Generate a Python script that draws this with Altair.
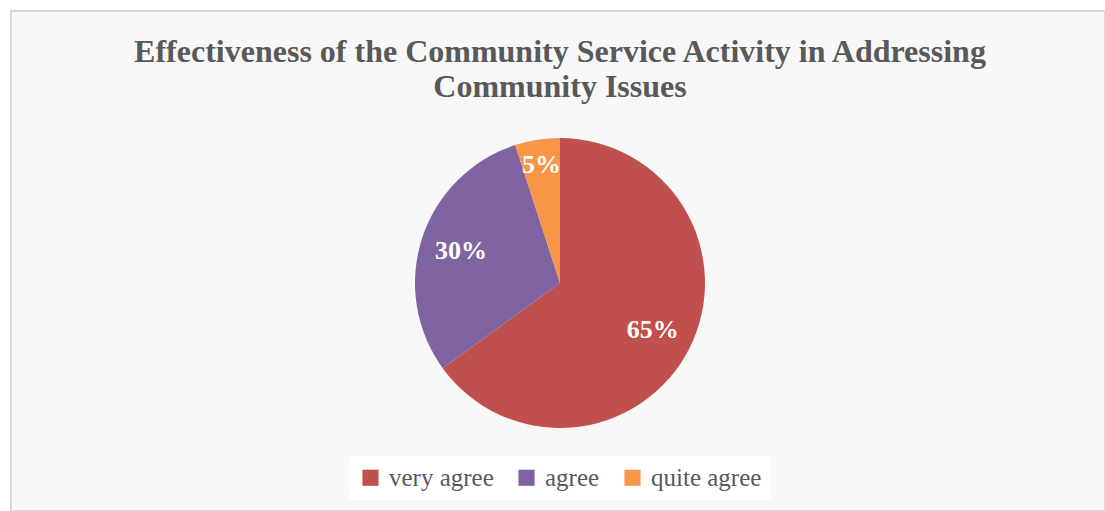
import altair as alt
import pandas as pd

categories = ["very agree", "agree", "quite agree"]
values = [65, 30, 5]
labels = ["65%", "30%", "5%"]
colors = ["#C0504D", "#8064A2", "#F79646"]
title_lines = ["Effectiveness of the Community Service Activity in Addressing", "Community Issues"]

df = pd.DataFrame({"category": categories, "value": values, "label": labels,
                   "order": [0, 1, 2]})

W, H = 1094, 500
CX, CY = 549, 272

base = alt.Chart(df).encode(
    theta=alt.Theta("value:Q", stack=True),
    order=alt.Order("order:Q"),
)

pie = base.mark_arc(outerRadius=145, stroke=None).encode(
    color=alt.Color(
        "category:N",
        scale=alt.Scale(domain=categories, range=colors),
        sort=categories,
        legend=alt.Legend(
            orient="none", legendX=338, legendY=445, direction="horizontal",
            title=None, fillColor="white", padding=9,
            symbolType="square", symbolSize=260, symbolStrokeWidth=0,
            labelFont="Liberation Serif", labelFontSize=25, labelColor="#595959",
            columnPadding=20, labelOffset=6,
        ),
    ),
    x=alt.value(CX), y=alt.value(CY),
)

txt_main = base.transform_filter(alt.datum.category != "quite agree").mark_text(
    font="Liberation Serif", fontWeight="bold", fontSize=26, color="white",
    baseline="middle", align="center",
).encode(text="label:N", radius=alt.value(104), x=alt.value(CX), y=alt.value(CY))

txt_small = base.mark_text(
    font="Liberation Serif", fontWeight="bold", fontSize=26, color="white",
    baseline="middle", align="center",
).encode(
    text=alt.condition(alt.datum.category == "quite agree", "label:N", alt.value("")),
    radius=alt.value(119), x=alt.value(CX), y=alt.value(CY),
)

def title_line(s, y):
    return alt.Chart(pd.DataFrame({"t": [s]})).mark_text(
        font="Liberation Serif", fontWeight="bold", fontSize=32, color="#595959",
        baseline="alphabetic", align="center",
    ).encode(text="t:N", x=alt.value(W / 2 + 2), y=alt.value(y))

chart = alt.layer(
    pie, txt_main, txt_small,
    title_line(title_lines[0], 51),
    title_line(title_lines[1], 86),
).properties(
    width=W, height=H,
    autosize=alt.AutoSizeParams(type="none"),
    padding={"left": 11, "top": 11, "right": 0, "bottom": 0},
    background="white",
).configure_view(
    fill="#F8F8F8", stroke="#D9D9D9", strokeWidth=2,
)

chart.save("out.html", embed_options={"renderer": "svg", "actions": False})
